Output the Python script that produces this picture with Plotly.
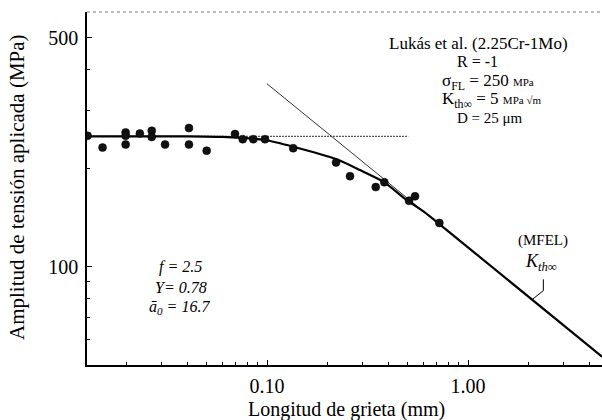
import plotly.graph_objects as go

# ---- data ----
pts_x = [0.0128, 0.0152, 0.0198, 0.0198, 0.0198, 0.0233, 0.0267, 0.0267, 0.0311,
         0.0409, 0.0409, 0.0501, 0.0693, 0.0757, 0.0855, 0.0977, 0.135, 0.2205,
         0.2588, 0.3474, 0.3834, 0.5087, 0.5449, 0.7199]
pts_y = [251, 231, 257, 251, 236, 255, 260, 249, 236, 265, 236, 226, 254, 245,
         245, 245, 230, 208, 189, 175, 181, 159, 164, 136]

# model curve (thick)
curve_x = [0.01272, 0.04, 0.06, 0.0977, 0.135, 0.222, 0.290, 0.379, 0.4955, 0.60, 0.7256, 4.64]
curve_y = [250, 250, 249, 243.6, 232.4, 212.7, 197.3, 181.8, 159.8, 147.5, 134.5, 53.1]

# LEFM straight line (thin)
lefm_x = [0.10, 0.60]
lefm_y = [361.7, 147.6]

# fatigue limit (thin horizontal)
fl_x = [0.01272, 0.504]
fl_y = [250, 250]

# leader line for the K_th label
lead_x = [2.37, 2.37, 2.08]
lead_y = [91.5, 84.5, 79.3]

x_major = [0.1, 1.0]
x_major_text = ["0.10", "1.00"]
x_minor = [0.02, 0.03, 0.04, 0.05, 0.06, 0.07, 0.08, 0.09,
           0.2, 0.3, 0.4, 0.5, 0.6, 0.7, 0.8, 0.9, 2, 3, 4]
y_major = [100, 500]
y_major_text = ["100", "500"]
y_minor = [60, 70, 80, 90, 200, 300, 400]

SERIF = "Liberation Serif"

fig = go.Figure()
fig.add_trace(go.Scatter(x=fl_x, y=fl_y, mode="lines",
                         line=dict(color="#555555", width=1.2, dash="2px,1px"), hoverinfo="skip"))
fig.add_trace(go.Scatter(x=lefm_x, y=lefm_y, mode="lines",
                         line=dict(color="#333333", width=1), hoverinfo="skip"))
fig.add_trace(go.Scatter(x=curve_x, y=curve_y, mode="lines",
                         line=dict(color="black", width=2.2, shape="spline", smoothing=0.6)))
fig.add_trace(go.Scatter(x=pts_x, y=pts_y, mode="markers",
                         marker=dict(color="#111111", size=8,
                                     line=dict(color="black", width=0.5))))
fig.add_trace(go.Scatter(x=lead_x, y=lead_y, mode="lines",
                         line=dict(color="black", width=1), hoverinfo="skip"))

axis_common = dict(
    type="log", showgrid=False, zeroline=False,
    showline=True, linecolor="black", linewidth=1.5,
    ticks="inside", ticklen=5, tickwidth=1, tickcolor="black",
    tickmode="array",
    tickfont=dict(family=SERIF, size=20, color="black"),
)

fig.update_xaxes(**axis_common, range=[-1.8955, 0.6665],
                 tickvals=x_major, ticktext=x_major_text, ticklabelstandoff=2,
                 minor=dict(tickmode="array", tickvals=x_minor, ticks="inside",
                            ticklen=3, tickcolor="black", tickwidth=1))
fig.update_yaxes(**axis_common, range=[1.6999, 2.7775],
                 tickvals=y_major, ticktext=y_major_text, ticklabelstandoff=3,
                 minor=dict(tickmode="array", tickvals=y_minor, ticks="inside",
                            ticklen=3, tickcolor="black", tickwidth=1))

def px2paper(px, py):
    return (px - 87) / 515.0, (365 - py) / 353.0

ann = []
def add(text, px, py, size, xanchor="center", italic=False, angle=0):
    x, y = px2paper(px, py)
    ann.append(dict(text=text, x=x, y=y, xref="paper", yref="paper",
                    xanchor=xanchor, yanchor="middle", showarrow=False,
                    textangle=angle,
                    font=dict(family=SERIF, size=size, color="black",
                              style="italic" if italic else "normal")))

# axis titles
add("Amplitud de tensión aplicada (MPa)", 17, 187, 21, angle=-90)
add("Longitud de grieta (mm)", 346, 410, 20)

# upper-right block
add("Lukás et al. (2.25Cr-1Mo)", 478, 43, 17)
add("R = -1", 455, 62, 16, xanchor="left")
add("σ<sub>FL</sub> = 250 <span style='font-size:11px'>MPa</span>", 440, 82, 17, xanchor="left")
add("K<sub>th∞</sub> = 5 <span style='font-size:11px'>MPa √m</span>", 440, 100, 17, xanchor="left")
add("D = 25 μm", 455, 118, 15, xanchor="left")

# lower-left block
add("f = 2.5", 180, 267, 16, italic=True)
add("Y= 0.78", 181, 287, 16, italic=True)
add("ā<sub>0</sub> = 16.7", 179, 307, 16, italic=True)

# MFEL label
add("(MFEL)", 543, 240, 15)
add("K<sub>th∞</sub>", 541, 262, 18, italic=True)

fig.update_layout(
    width=602, height=420,
    margin=dict(l=87, r=0, t=12, b=55),
    paper_bgcolor="white", plot_bgcolor="white",
    showlegend=False,
    font=dict(family=SERIF, color="black"),
    annotations=ann,
    shapes=[dict(type="line", xref="paper", yref="paper", x0=0, x1=1, y0=1, y1=1,
                 line=dict(color="#777777", width=1, dash="dot"))],
)

fig.write_html("out.html")
